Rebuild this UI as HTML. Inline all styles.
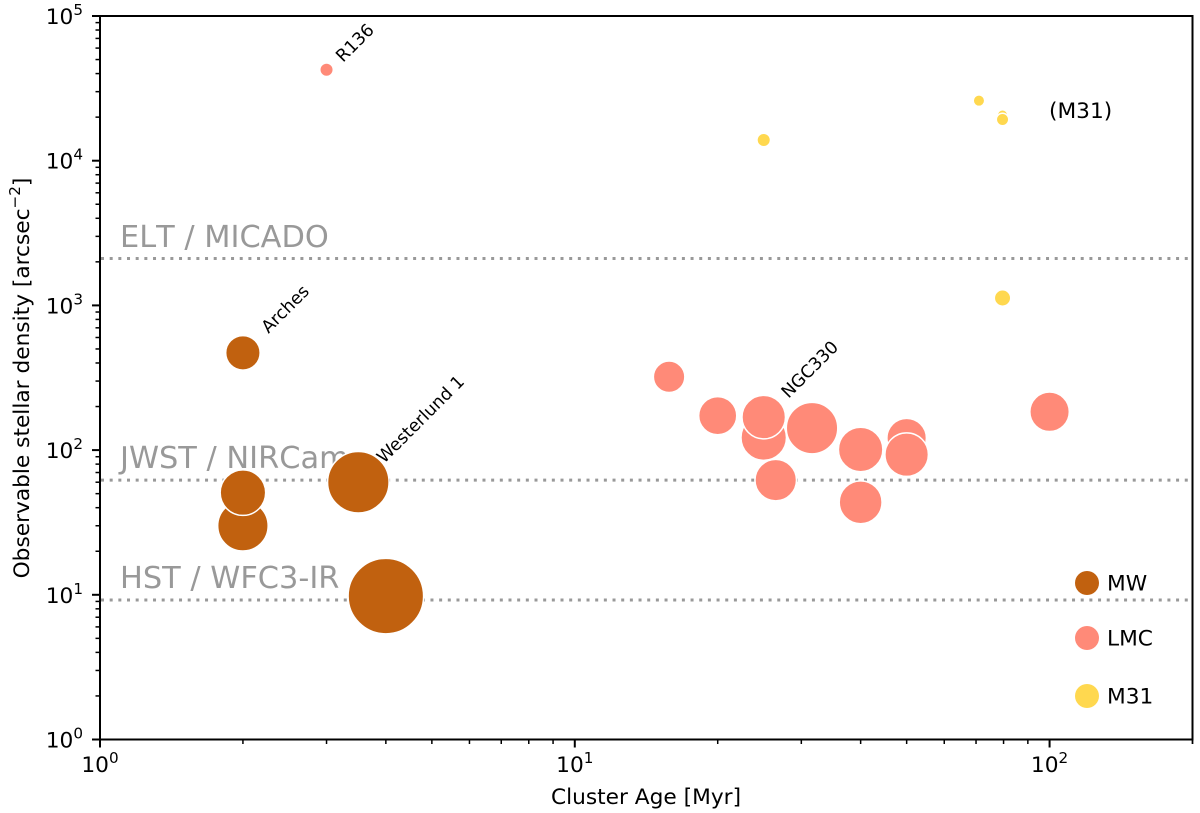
<!DOCTYPE html>
<html>
<head>
<meta charset="utf-8">
<style>
html,body{margin:0;padding:0;background:#fff;}
svg{display:block;font-family:"DejaVu Sans","Liberation Sans",sans-serif;}
</style>
</head>
<body>
<svg id="chart" width="1200" height="813" viewBox="0 0 1200 813" xmlns="http://www.w3.org/2000/svg"></svg>
<script>
const xDecades = [0, 1, 2];
const yDecades = [0, 1, 2, 3, 4, 5];
const xLimits = [1, 200];
const yLimits = [1, 100000];

const instrumentNames = ["HST / WFC3-IR", "JWST / NIRCam", "ELT / MICADO"];
const instrumentLimits = [9.2, 62, 2110];
const instrumentLabelDensity = [11.1, 75.2, 2535];

const mwAges = [2, 2, 2, 3.5, 4];
const mwDensities = [470, 30, 50.8, 60, 9.8];
const mwAreas = [272, 600, 484, 900, 1369];

const lmcAges = [3, 15.8, 20, 25, 25, 26.5, 31.6, 40, 40, 50, 50, 100];
const lmcDensities = [42550, 321, 173, 122, 169, 62, 142, 101, 43.6, 121, 93, 184];
const lmcAreas = [36, 225, 335, 484, 441, 400, 625, 462, 428, 361, 441, 361];

const m31Ages = [25, 71, 79.6, 79.6, 79.6];
const m31Densities = [13900, 26000, 20700, 19260, 1125];
const m31Areas = [36, 25, 20, 30, 56];

const clusterNames = ["R136", "Arches", "Westerlund 1", "NGC330"];
const clusterNameAges = [3.25, 2.264, 3.964, 28.2];
const clusterNameDensities = [47330, 634, 80.1, 225.5];

const legendNames = ["MW", "LMC", "M31"];
const colorMW = "#c1610f";
const colorLMC = "#ff8a78";
const colorM31 = "#ffd84f";

const plotLeft = 100, plotRight = 1192.5, plotTop = 16, plotBottom = 739.5;
const labelSize = 21.7, superSize = 15.2, nameSize = 17.4;
const NS = "http://www.w3.org/2000/svg";
const svg = document.getElementById("chart");

function xScale(v) {
  return plotLeft + (Math.log10(v) - Math.log10(xLimits[0])) /
    (Math.log10(xLimits[1]) - Math.log10(xLimits[0])) * (plotRight - plotLeft);
}
function yScale(v) {
  return plotBottom - (Math.log10(v) - Math.log10(yLimits[0])) /
    (Math.log10(yLimits[1]) - Math.log10(yLimits[0])) * (plotBottom - plotTop);
}
function make(tag, props, parent) {
  const el = document.createElementNS(NS, tag);
  for (const k in props) el.setAttribute(k, props[k]);
  (parent || svg).appendChild(el);
  return el;
}
function addPower(textEl, exponent) {
  const base = document.createElementNS(NS, "tspan");
  base.textContent = "10";
  textEl.appendChild(base);
  const sup = document.createElementNS(NS, "tspan");
  sup.setAttribute("font-size", superSize);
  sup.setAttribute("dy", "-9");
  sup.textContent = String(exponent);
  textEl.appendChild(sup);
}

/* instrument limit lines and labels (underneath the markers) */
instrumentLimits.forEach(function (limit, i) {
  const y = yScale(limit);
  const line = make("line", {x1: plotLeft + 1, x2: plotRight, y1: y, y2: y, stroke: "#999999", "stroke-width": 3, "stroke-dasharray": "3 5.67"});
  
  
  const label = make("text", {x: 120, y: yScale(instrumentLabelDensity[i]), "font-size": 30.4, fill: "#999999", style: "font-kerning:none"});
  label.textContent = instrumentNames[i];
  
  
});

/* scatter series */
function drawSeries(ages, densities, areas, color, seriesName) {
  ages.forEach(function (age, i) {
    const c = make("circle", {cx: xScale(age), cy: yScale(densities[i]), r: Math.sqrt(areas[i]) + 0.75, fill: color, stroke: "#ffffff", "stroke-width": 1.5});
    
    
  });
}
drawSeries(mwAges, mwDensities, mwAreas, colorMW, "mw-cluster-point");
drawSeries(lmcAges, lmcDensities, lmcAreas, colorLMC, "lmc-cluster-point");
drawSeries(m31Ages, m31Densities, m31Areas, colorM31, "m31-cluster-point");

/* cluster name annotations */
clusterNames.forEach(function (name, i) {
  const x = xScale(clusterNameAges[i]);
  const y = yScale(clusterNameDensities[i]);
  const t = make("text", {x: x, y: y, "font-size": nameSize, fill: "#000", transform: "rotate(-45 " + x + " " + y + ")"});
  t.textContent = name;
  
  
});

const m31Note = make("text", {x: 1049, y: 118, "font-size": labelSize, fill: "#000"});
m31Note.textContent = "(M31)";



/* legend */
const legendColors = [colorMW, colorLMC, colorM31];
const legendY = [583, 638, 696];
legendNames.forEach(function (name, i) {
  const dot = make("circle", {cx: 1087, cy: legendY[i], r: 12, fill: legendColors[i]});
  
  
  const lab = make("text", {x: 1107, y: legendY[i] + 7.5, "font-size": labelSize, fill: "#000"});
  lab.textContent = name;
  
  
});

/* plot frame */
const frame = make("rect", {x: plotLeft, y: plotTop, width: plotRight - plotLeft, height: plotBottom - plotTop, fill: "none", stroke: "#000", "stroke-width": 2});



/* x axis ticks */
xDecades.forEach(function (d) {
  for (let m = 1; m < 10; m++) {
    const v = m * Math.pow(10, d);
    if (v > xLimits[1]) break;
    const x = xScale(v);
    const major = m === 1;
    const tick = make("line", {x1: x, x2: x, y1: plotBottom, y2: plotBottom + (major ? 8 : 4.5), stroke: "#000", "stroke-width": major ? 2 : 1.5});
    
    
  }
  const label = make("text", {x: xScale(Math.pow(10, d)), y: 772, "font-size": labelSize, fill: "#000", "text-anchor": "middle"});
  addPower(label, d);
  
  
});
const xMaxTick = make("line", {x1: plotRight, x2: plotRight, y1: plotBottom, y2: plotBottom + 4.5, stroke: "#000", "stroke-width": 1.5});



/* y axis ticks */
yDecades.forEach(function (d) {
  const limit = d === yDecades[yDecades.length - 1] ? 2 : 10;
  for (let m = 1; m < limit; m++) {
    const y = yScale(m * Math.pow(10, d));
    const major = m === 1;
    const tick = make("line", {x1: plotLeft - (major ? 8 : 4.5), x2: plotLeft, y1: y, y2: y, stroke: "#000", "stroke-width": major ? 2 : 1.5});
    
    
  }
  const label = make("text", {x: 83, y: yScale(Math.pow(10, d)) + 8, "font-size": labelSize, fill: "#000", "text-anchor": "end"});
  addPower(label, d);
  
  
});

/* axis titles */
const xTitle = make("text", {x: 646, y: 804, "font-size": labelSize, fill: "#000", "text-anchor": "middle"});
xTitle.textContent = "Cluster Age [Myr]";



const yTitle = make("text", {x: 0, y: 0, "font-size": labelSize, fill: "#000", "text-anchor": "middle", transform: "translate(29 378) rotate(-90)"});
const yTitleMain = document.createElementNS(NS, "tspan");
yTitleMain.textContent = "Observable stellar density [arcsec";
yTitle.appendChild(yTitleMain);
const yTitleSup = document.createElementNS(NS, "tspan");
yTitleSup.setAttribute("font-size", superSize);
yTitleSup.setAttribute("dy", "-9");
yTitleSup.textContent = "\u22122";
yTitle.appendChild(yTitleSup);
const yTitleEnd = document.createElementNS(NS, "tspan");
yTitleEnd.setAttribute("dy", "9");
yTitleEnd.textContent = "]";
yTitle.appendChild(yTitleEnd);


</script>
</body>
</html>
